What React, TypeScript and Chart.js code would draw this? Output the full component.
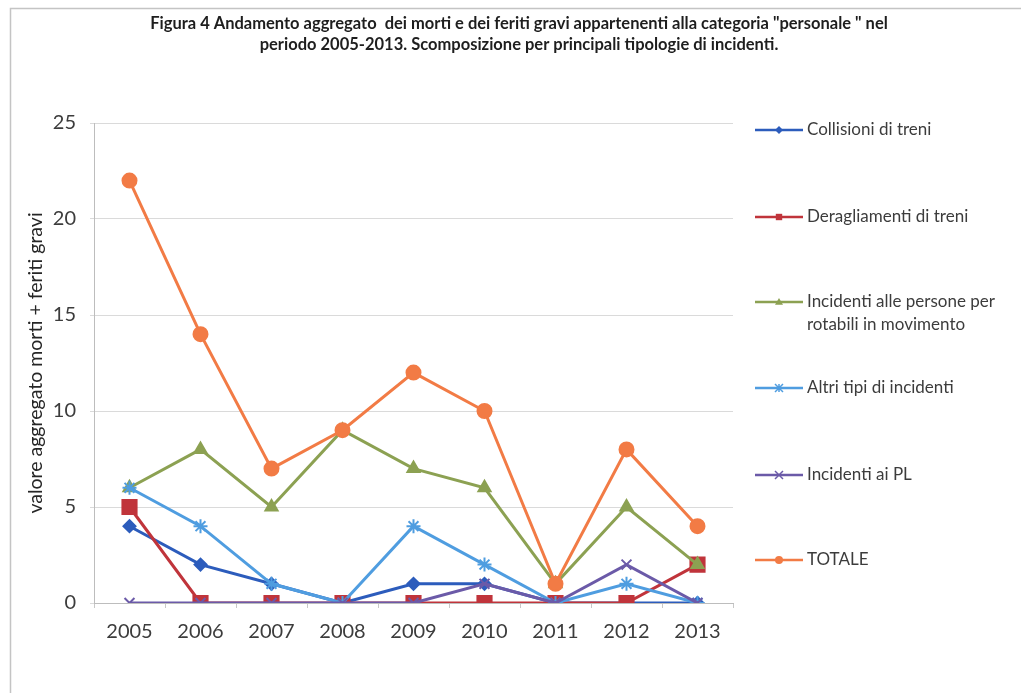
import React, { useEffect, useRef } from "react";
import { Chart, registerables } from "chart.js";

Chart.register(...registerables);

const titleLines = [
  "Figura 4 Andamento aggregato  dei morti e dei feriti gravi appartenenti alla categoria \"personale \" nel",
  "periodo 2005-2013. Scomposizione per principali tipologie di incidenti.",
];
const yAxisTitle = "valore aggregato morti + feriti gravi";
const years = ["2005", "2006", "2007", "2008", "2009", "2010", "2011", "2012", "2013"];

const collisioni = [4, 2, 1, 0, 1, 1, 0, 0, 0];
const deragliamenti = [5, 0, 0, 0, 0, 0, 0, 0, 2];
const incidentiPersone = [6, 8, 5, 9, 7, 6, 1, 5, 2];
const altriTipi = [6, 4, 1, 0, 4, 2, 0, 1, 0];
const incidentiPL = [0, 0, 0, 0, 0, 1, 0, 2, 0];
const totale = [22, 14, 7, 9, 12, 10, 1, 8, 4];

const seriesLabels = [
  ["Collisioni di treni"],
  ["Deragliamenti di treni"],
  ["Incidenti alle persone per", "rotabili in movimento"],
  ["Altri tipi di incidenti"],
  ["Incidenti ai PL"],
  ["TOTALE"],
];

const FONT = "Lato, 'Open Sans', sans-serif";

function drawMarker(ctx: CanvasRenderingContext2D, style: string, x: number, y: number, r: number, color: string) {
  ctx.save();
  ctx.fillStyle = color;
  ctx.strokeStyle = color;
  ctx.lineWidth = 1.5;
  ctx.beginPath();
  if (style === "circle") {
    ctx.arc(x, y, r, 0, Math.PI * 2);
    ctx.fill();
  } else if (style === "rect") {
    ctx.rect(x - r * 0.8, y - r * 0.8, r * 1.6, r * 1.6);
    ctx.fill();
  } else if (style === "rectRot") {
    ctx.moveTo(x - r, y);
    ctx.lineTo(x, y - r);
    ctx.lineTo(x + r, y);
    ctx.lineTo(x, y + r);
    ctx.closePath();
    ctx.fill();
  } else if (style === "triangle") {
    ctx.moveTo(x, y - r);
    ctx.lineTo(x + r, y + r * 0.7);
    ctx.lineTo(x - r, y + r * 0.7);
    ctx.closePath();
    ctx.fill();
  } else if (style === "crossRot") {
    ctx.moveTo(x - r, y - r);
    ctx.lineTo(x + r, y + r);
    ctx.moveTo(x + r, y - r);
    ctx.lineTo(x - r, y + r);
    ctx.stroke();
  } else {
    ctx.moveTo(x - r, y - r);
    ctx.lineTo(x + r, y + r);
    ctx.moveTo(x + r, y - r);
    ctx.lineTo(x - r, y + r);
    ctx.moveTo(x, y - r);
    ctx.lineTo(x, y + r);
    ctx.stroke();
  }
  ctx.restore();
}

const decorPlugin = {
  id: "decor",
  beforeDraw(chart: any) {
    const ctx = chart.ctx;
    ctx.save();
    ctx.fillStyle = "#ffffff";
    ctx.fillRect(0, 0, chart.width, chart.height);
    ctx.strokeStyle = "#c4c4c4";
    ctx.lineWidth = 1.5;
    ctx.beginPath();
    ctx.moveTo(10.5, chart.height);
    ctx.lineTo(10.5, 8.5);
    ctx.lineTo(chart.width, 8.5);
    ctx.stroke();
    ctx.fillStyle = "#1e1e1e";
    ctx.font = "bold 16.5px " + FONT;
    ctx.textAlign = "center";
    ctx.textBaseline = "middle";
    ctx.fillText(titleLines[0], 519, 24);
    ctx.fillText(titleLines[1], 519, 45);
    ctx.restore();
  },
  afterDraw(chart: any) {
    const ctx = chart.ctx;
    const ys = [130, 217, 302, 388, 475, 560];
    ctx.save();
    chart.data.datasets.forEach((ds: any, i: number) => {
      const y = ys[i];
      ctx.strokeStyle = ds.borderColor;
      ctx.lineWidth = 2.5;
      ctx.beginPath();
      ctx.moveTo(755, y);
      ctx.lineTo(803, y);
      ctx.stroke();
      drawMarker(ctx, ds.pointStyle, 779, y, 4, ds.borderColor);
      ctx.fillStyle = "#3c3c3c";
      ctx.font = "17px " + FONT;
      ctx.textAlign = "left";
      ctx.textBaseline = "middle";
      const lines = seriesLabels[i];
      lines.forEach((t: string, k: number) => {
        ctx.fillText(t, 807, y + k * 23);
      });
    });
    ctx.restore();
  },
};

export default function App() {
  const ref = useRef<HTMLCanvasElement | null>(null);
  useEffect(() => {
    if (!ref.current) return;
    const mk = (label: string, data: number[], color: string, style: string, r: number, order: number) => ({
      label,
      data,
      borderColor: color,
      backgroundColor: color,
      pointBackgroundColor: color,
      pointBorderColor: color,
      pointStyle: style,
      pointRadius: r,
      pointBorderWidth: 2,
      borderWidth: 3,
      tension: 0,
      order,
    });
    const chart = new Chart(ref.current, {
      type: "line",
      data: {
        labels: years,
        datasets: [
          mk(seriesLabels[0].join(" "), collisioni, "#2c5cbc", "rectRot", 6, 5),
          mk(seriesLabels[1].join(" "), deragliamenti, "#c0343b", "rect", 10, 4),
          mk(seriesLabels[2].join(" "), incidentiPersone, "#8ca152", "triangle", 7, 3),
          mk(seriesLabels[3].join(" "), altriTipi, "#4f9de0", "star", 7, 2),
          mk(seriesLabels[4].join(" "), incidentiPL, "#6b5aa8", "crossRot", 7, 1),
          mk(seriesLabels[5].join(" "), totale, "#f27b45", "circle", 7, 0),
        ] as any,
      },
      options: {
        responsive: false,
        animation: false,
        devicePixelRatio: 1,
        layout: { padding: { left: 10, top: 123, right: 288, bottom: 40 } },
        plugins: {
          legend: { display: false },
          title: { display: false },
          tooltip: { enabled: false },
        },
        scales: {
          x: {
            offset: true,
            afterFit: (s: any) => { s.height = 50; },
            grid: {
              display: true,
              drawOnChartArea: false,
              offset: true,
              tickLength: 5,
              color: "#c8c8c8",
            },
            border: { color: "#bdbdbd", width: 1 },
            ticks: { color: "#3c3c3c", font: { family: FONT, size: 20 }, padding: 12 },
          },
          y: {
            min: 0,
            max: 25,
            afterFit: (s: any) => { s.width = 84; },
            ticks: { stepSize: 5, color: "#3c3c3c", font: { family: FONT, size: 20 }, padding: 14 },
            grid: { color: "#dadada", tickLength: 4 },
            border: { color: "#bdbdbd", width: 1 },
            title: {
              display: true,
              text: yAxisTitle,
              color: "#262626",
              font: { family: FONT, size: 19.5 },
              padding: { top: 14, bottom: 0 },
            },
          },
        },
      },
      plugins: [decorPlugin],
    });
    return () => chart.destroy();
  }, []);
  return (
    <div style={{ position: "fixed", left: 0, top: 0, width: 1021, height: 693, background: "#fff" }}>
      <canvas ref={ref} width={1021} height={693} style={{ display: "block" }} />
    </div>
  );
}
